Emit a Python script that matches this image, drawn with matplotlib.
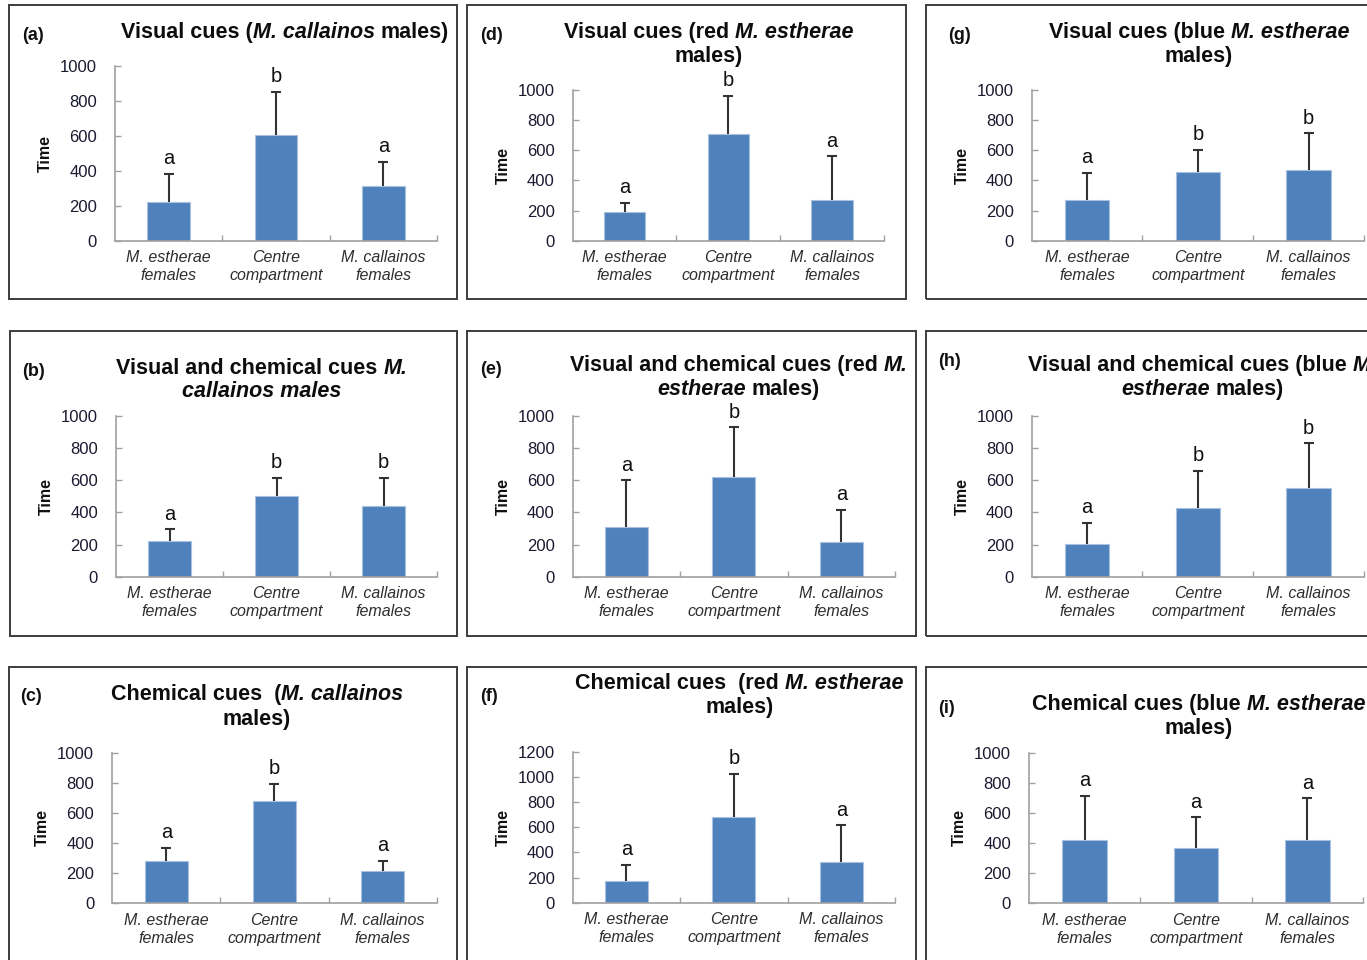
import numpy as np
import matplotlib
matplotlib.use("Agg")
import matplotlib.pyplot as plt
from matplotlib.transforms import IdentityTransform
from matplotlib.patches import Rectangle

plt.rcParams["font.family"] = ["Liberation Sans", "DejaVu Sans"]

# ---- data: mean time in each compartment with upper standard error ----
groups = ["M. estherae\nfemales", "Centre\ncompartment", "M. callainos\nfemales"]

a_mean = [220, 605, 310]
a_err = [160, 245, 140]
a_sig = ["a", "b", "a"]

b_mean = [222, 500, 442]
b_err = [73, 116, 174]
b_sig = ["a", "b", "b"]

c_mean = [283, 681, 212]
c_err = [86, 113, 69]
c_sig = ["a", "b", "a"]

d_mean = [190, 705, 272]
d_err = [62, 256, 288]
d_sig = ["a", "b", "a"]

e_mean = [307, 618, 214]
e_err = [293, 311, 201]
e_sig = ["a", "b", "a"]

f_mean = [173, 682, 324]
f_err = [127, 343, 292]
f_sig = ["a", "b", "a"]

g_mean = [272, 454, 471]
g_err = [177, 148, 242]
g_sig = ["a", "b", "b"]

h_mean = [205, 425, 550]
h_err = [131, 235, 280]
h_sig = ["a", "b", "b"]

i_mean = [418, 365, 418]
i_err = [297, 206, 279]
i_sig = ["a", "a", "a"]

# ---- titles: lines of (text, italic) segments ----
titles = {
    "a": [[("Visual cues (", False), ("M. callainos", True), (" males)", False)]],
    "d": [[("Visual cues (red ", False), ("M. estherae", True)], [("males)", False)]],
    "g": [[("Visual cues (blue ", False), ("M. estherae", True)], [("males)", False)]],
    "b": [[("Visual and chemical cues ", False), ("M.", True)],
          [("callainos males", True)]],
    "e": [[("Visual and chemical cues (red ", False), ("M.", True)],
          [("estherae", True), (" males)", False)]],
    "h": [[("Visual and chemical cues (blue ", False), ("M.", True)],
          [("estherae", True), (" males)", False)]],
    "c": [[("Chemical cues  (", False), ("M. callainos", True)], [("males)", False)]],
    "f": [[("Chemical cues  (red ", False), ("M. estherae", True)], [("males)", False)]],
    "i": [[("Chemical cues (blue ", False), ("M. estherae", True)], [("males)", False)]],
}

# ---- layout in pixels (from top-left) ----
W, H = 1367, 960
layout = {
    # axes: x_left, x_right, y_of_zero, y_of_top ; ymax ; frame ; label ; title centre & baselines
    "a": dict(ax=(115, 437, 240.7, 65.7), ymax=1000, frame=(9, 5, 457, 299),
              lab=(22, 40), tc=285, tb=[37.7]),
    "d": dict(ax=(572.7, 884, 240.7, 90), ymax=1000, frame=(467, 5, 906, 299),
              lab=(480, 40), tc=709, tb=[37.7, 61.7]),
    "g": dict(ax=(1031.7, 1364, 240.7, 90), ymax=1000, frame=(926, 5, 1390, 299),
              lab=(948, 40), tc=1199, tb=[37.7, 61.7]),
    "b": dict(ax=(116, 437, 576.7, 416), ymax=1000, frame=(10, 331, 457, 636),
              lab=(22, 376), tc=262, tb=[374.3, 397.3]),
    "e": dict(ax=(572.7, 895, 576.7, 416), ymax=1000, frame=(467, 331, 916, 636),
              lab=(480, 374), tc=738.5, tb=[370.7, 395]),
    "h": dict(ax=(1031.7, 1364, 576.7, 416), ymax=1000, frame=(926, 331, 1390, 636),
              lab=(938, 366), tc=1202.5, tb=[370.7, 395]),
    "c": dict(ax=(112.3, 436.7, 903.3, 752.7), ymax=1000, frame=(9, 667, 457, 990),
              lab=(20, 701), tc=257, tb=[700, 725]),
    "f": dict(ax=(572.7, 895, 902.7, 752), ymax=1200, frame=(467, 667, 916, 990),
              lab=(480, 701), tc=739.5, tb=[689.3, 713.3]),
    "i": dict(ax=(1029, 1363, 903.3, 752.7), ymax=1000, frame=(926, 667, 1390, 990),
              lab=(938, 713), tc=1199, tb=[710, 734]),
}

panels = {
    "a": (a_mean, a_err, a_sig), "b": (b_mean, b_err, b_sig), "c": (c_mean, c_err, c_sig),
    "d": (d_mean, d_err, d_sig), "e": (e_mean, e_err, e_sig), "f": (f_mean, f_err, f_sig),
    "g": (g_mean, g_err, g_sig), "h": (h_mean, h_err, h_sig), "i": (i_mean, i_err, i_sig),
}

BAR = "#4f81bd"
AXIS = "#a0a0a0"
ERR = "#333333"
TITLE_SIZE = 15.5

fig = plt.figure(figsize=(W / 100, H / 100), dpi=100)
renderer = fig.canvas.get_renderer()


def text_px(x, y, s, **kw):
    return fig.text(x, H - y, s, transform=IdentityTransform(), **kw)


def space_width(italic):
    style = "italic" if italic else "normal"
    kw = dict(fontsize=TITLE_SIZE, fontweight="bold", fontstyle=style)
    t1 = text_px(0, 0, "n n", **kw)
    t2 = text_px(0, 0, "nn", **kw)
    w = t1.get_window_extent(renderer).width - t2.get_window_extent(renderer).width
    t1.remove()
    t2.remove()
    return w


SPACE = {False: space_width(False), True: space_width(True)}


def rich_line(segments, cx, baseline):
    pieces = []
    total = 0.0
    for s, italic in segments:
        lead = len(s) - len(s.lstrip(" "))
        trail = len(s) - len(s.rstrip(" "))
        core = s.strip(" ")
        t = text_px(0, baseline, core, fontsize=TITLE_SIZE, fontweight="bold",
                    fontstyle="italic" if italic else "normal",
                    ha="left", va="baseline", color="#0d0d0d")
        w = t.get_window_extent(renderer).width
        total += lead * SPACE[italic]
        pieces.append((t, total))
        total += w + trail * SPACE[italic]
    x0 = cx - total / 2
    for t, off in pieces:
        t.set_x(x0 + off)


x = np.arange(3)
for key in "adgbehcfi":
    mean, err, sig = panels[key]
    mean = np.asarray(mean, float)
    top = mean + np.asarray(err, float)
    L = layout[key]
    xl, xr, y0, yt = L["ax"]
    ymax = L["ymax"]

    # panel frame
    fx0, fy0, fx1, fy1 = L["frame"]
    fig.patches.append(Rectangle((fx0 / W, 1 - fy1 / H), (fx1 - fx0) / W, (fy1 - fy0) / H,
                                 transform=fig.transFigure, fill=False,
                                 edgecolor="#3c3c3c", linewidth=1.4, zorder=0))

    ax = fig.add_axes([xl / W, 1 - y0 / H, (xr - xl) / W, (y0 - yt) / H])
    ax.set_facecolor("none")
    ax.bar(x, mean, width=0.4, color=BAR, edgecolor="#a9c0de", linewidth=0.8, zorder=2)
    # upper-only error bars with a cap on top
    ax.vlines(x, mean, top, color=ERR, linewidth=1.5, zorder=3)
    ax.plot(x, top, linestyle="none", marker="_", markersize=7, markeredgewidth=1.5,
            color=ERR, zorder=3)
    for xi, t, s in zip(x, top, sig):
        ax.annotate(s, (xi, t), xytext=(0, 7), textcoords="offset points",
                    ha="center", va="baseline", fontsize=14.5, color="#111111")

    ax.set_xlim(-0.5, 2.5)
    ax.set_ylim(0, ymax)
    ax.set_yticks(np.arange(0, ymax + 1, 200))
    ax.set_xticks(x)
    ax.set_xticklabels(groups, fontstyle="italic", fontsize=11.5, color="#2e2e2e",
                       linespacing=1.25)
    ax.set_xticks([0.5, 1.5, 2.5], minor=True)
    ax.tick_params(axis="x", which="major", length=0, pad=7)
    ax.tick_params(axis="x", which="minor", direction="in", length=4, width=1, color=AXIS)
    ax.tick_params(axis="y", direction="in", length=4, width=1, color=AXIS,
                   labelsize=12, labelcolor="#1a1a30", pad=13)
    for side in ("top", "right"):
        ax.spines[side].set_visible(False)
    for side in ("left", "bottom"):
        ax.spines[side].set_color(AXIS)
        ax.spines[side].set_linewidth(1.2)
    ax.set_ylabel("Time", fontsize=11.5, fontweight="bold", labelpad=5, color="#111111")

    # panel letter
    lx, ly = L["lab"]
    text_px(lx, ly, "(%s)" % key, fontsize=13, fontweight="bold", ha="left",
            va="baseline", color="#111111")

    # title
    for segs, bl in zip(titles[key], L["tb"]):
        rich_line(segs, L["tc"], bl)

fig.savefig("out.png", dpi=100)
